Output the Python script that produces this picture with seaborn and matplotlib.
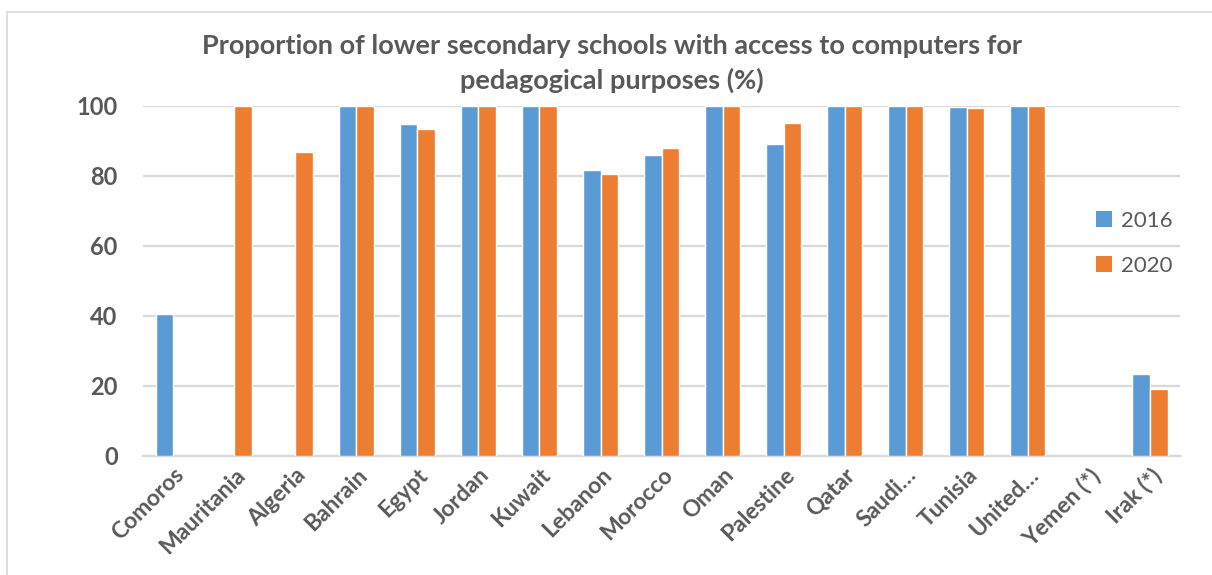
import numpy as np
import pandas as pd
import matplotlib
matplotlib.use("Agg")
import matplotlib.pyplot as plt
from matplotlib import font_manager as fm
from matplotlib.lines import Line2D
from matplotlib.patches import Patch
import seaborn as sns

countries = ["Comoros", "Mauritania", "Algeria", "Bahrain", "Egypt", "Jordan",
             "Kuwait", "Lebanon", "Morocco", "Oman", "Palestine", "Qatar",
             "Saudi…", "Tunisia", "United…", "Yemen (*)", "Irak (*)"]
values_2016 = [40.6, np.nan, np.nan, 100, 94.9, 100, 100, 81.6, 86.1, 100,
               89.0, 100, 100, 99.7, 100, np.nan, 23.3]
values_2020 = [np.nan, 100, 86.9, 100, 93.3, 100, 100, 80.7, 88.1, 100,
               95.0, 100, 100, 99.5, 100, np.nan, 19.0]
years = ["2016", "2020"]
y_ticks = [0, 20, 40, 60, 80, 100]
title = ("Proportion of lower secondary schools with access to computers for\n"
         "pedagogical purposes (%)")

df = pd.DataFrame({
    "country": countries * 2,
    "year": [years[0]] * len(countries) + [years[1]] * len(countries),
    "value": values_2016 + values_2020,
}).dropna()

colors = {"2016": "#5B9BD5", "2020": "#ED7D31"}
text_gray = "#595959"
grid_gray = "#D9D9D9"

sns.set_theme(style="white")
plt.rcParams["font.family"] = ["Lato", "DejaVu Sans"]


def bold_font(size):
    """Pick the true Lato Bold face file when available."""
    for f in fm.fontManager.ttflist:
        if f.name == "Lato" and f.weight == 700 and f.style == "normal":
            return fm.FontProperties(fname=f.fname, size=size)
    return fm.FontProperties(family="Lato", weight="bold", size=size)


fig = plt.figure(figsize=(12.12, 5.75), dpi=100)
ax = fig.add_axes([0.1177, 0.2070, 0.9740 - 0.1177, 0.8157 - 0.2070])

sns.barplot(data=df, x="country", y="value", hue="year", order=countries,
            hue_order=years, palette=colors, width=0.575, saturation=1,
            errorbar=None, legend=False, ax=ax, zorder=3)

ax.set_xlim(-0.5, len(countries) - 0.5)
ax.set_ylim(0, 100)
ax.set_yticks(y_ticks)
ax.yaxis.grid(True, color=grid_gray, linewidth=1.6, zorder=0)
ax.set_axisbelow(True)
for side in ["top", "right", "left"]:
    ax.spines[side].set_visible(False)
ax.spines["bottom"].set_color(grid_gray)
ax.spines["bottom"].set_linewidth(1.6)
ax.set_xlabel("")
ax.set_ylabel("")
ax.tick_params(axis="both", length=0)
ax.tick_params(axis="y", pad=18)
ax.tick_params(axis="x", pad=6)

ytick_font = bold_font(17)
for lab in ax.get_yticklabels():
    lab.set_fontproperties(ytick_font)
    lab.set_color(text_gray)
ax.set_xticks(range(len(countries)))
ax.set_xticklabels(countries, rotation=45, ha="right", rotation_mode="anchor",
                   fontproperties=bold_font(16.5), color=text_gray)

fig.text(612 / 1212, 1 - 34 / 575, title, ha="center", va="top",
         fontproperties=bold_font(19.5), color=text_gray, linespacing=1.45)

handles = [Patch(facecolor=colors[y], edgecolor="none", label=y) for y in years]
leg = fig.legend(handles=handles, loc="upper left",
                 bbox_to_anchor=(1085 / 1212, 1 - 200 / 575), frameon=False,
                 fontsize=16, handlelength=0.72, handleheight=0.72,
                 handletextpad=0.4, labelspacing=1.1, borderpad=0)
for t in leg.get_texts():
    t.set_color(text_gray)

# outer chart frame
fig.add_artist(Line2D([7 / 1212, 7 / 1212], [0, 1 - 12 / 575],
                      transform=fig.transFigure, color=grid_gray, linewidth=1.2))
fig.add_artist(Line2D([7 / 1212, 1], [1 - 12 / 575, 1 - 12 / 575],
                      transform=fig.transFigure, color=grid_gray, linewidth=1.2))

fig.savefig("out.png", dpi=100, facecolor="white")
